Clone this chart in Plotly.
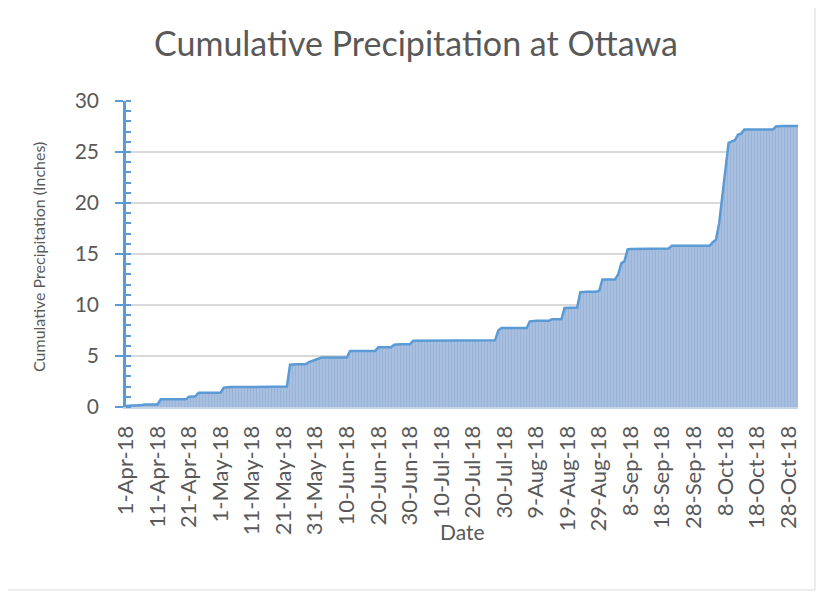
import pandas as pd
import plotly.graph_objects as go

# ---- data (cumulative precipitation, inches), daily from 1-Apr-18 to 31-Oct-18 ----
start_date = "2018-04-01"
end_date = "2018-10-31"

apr = [0.10, 0.15, 0.15, 0.15, 0.15, 0.20, 0.25, 0.25, 0.25, 0.25,
       0.25, 0.75, 0.75, 0.75, 0.75, 0.75, 0.75, 0.75, 0.75, 0.75,
       1.00, 1.00, 1.05, 1.40, 1.40, 1.40, 1.40, 1.40, 1.40, 1.40]
may = [1.40, 1.90, 1.95, 1.95, 1.95, 1.95, 1.95, 1.95, 1.95, 1.95,
       1.95, 1.95, 1.95, 1.95, 1.95, 1.95, 1.95, 1.95, 1.95, 1.95,
       1.95, 2.00, 4.15, 4.20, 4.20, 4.20, 4.20, 4.20, 4.40, 4.50,
       4.60]
jun = [4.70, 4.85, 4.85, 4.85, 4.85, 4.85, 4.85, 4.85, 4.85, 4.85,
       5.50, 5.50, 5.50, 5.50, 5.50, 5.50, 5.50, 5.50, 5.50, 5.85,
       5.85, 5.85, 5.85, 5.85, 6.10, 6.15, 6.15, 6.15, 6.15, 6.15]
jul = [6.50, 6.50, 6.50, 6.50, 6.50, 6.50, 6.50, 6.50, 6.50, 6.50,
       6.50, 6.50, 6.50, 6.50, 6.50, 6.50, 6.50, 6.50, 6.55, 6.55,
       6.55, 6.55, 6.55, 6.55, 6.55, 6.55, 6.55, 7.50, 7.75, 7.75,
       7.75]
aug = [7.75, 7.75, 7.75, 7.75, 7.75, 7.75, 8.40, 8.45, 8.45, 8.45,
       8.45, 8.45, 8.45, 8.60, 8.60, 8.60, 8.60, 9.70, 9.70, 9.70,
       9.70, 9.75, 11.25, 11.30, 11.30, 11.30, 11.30, 11.30, 11.40, 12.50,
       12.50]
sep = [12.50, 12.50, 12.50, 13.00, 14.10, 14.30, 15.45, 15.50, 15.50, 15.50,
       15.50, 15.50, 15.50, 15.50, 15.50, 15.50, 15.50, 15.50, 15.50, 15.55,
       15.80, 15.80, 15.80, 15.80, 15.80, 15.80, 15.80, 15.80, 15.80, 15.80]
oct_ = [15.80, 15.80, 15.80, 16.15, 16.40, 18.00, 20.60, 23.20, 25.90, 26.05,
        26.15, 26.70, 26.80, 27.20, 27.20, 27.20, 27.20, 27.20, 27.20, 27.20,
        27.20, 27.20, 27.20, 27.50, 27.55, 27.55, 27.55, 27.55, 27.55, 27.55,
        27.55]

precip = apr + may + jun + jul + aug + sep + oct_
dates = pd.date_range(start_date, end_date, freq="D")

tick_labels = ["1-Apr-18", "11-Apr-18", "21-Apr-18", "1-May-18", "11-May-18",
               "21-May-18", "31-May-18", "10-Jun-18", "20-Jun-18", "30-Jun-18",
               "10-Jul-18", "20-Jul-18", "30-Jul-18", "9-Aug-18", "19-Aug-18",
               "29-Aug-18", "8-Sep-18", "18-Sep-18", "28-Sep-18", "8-Oct-18",
               "18-Oct-18", "28-Oct-18"]
tick_dates = [pd.to_datetime(t, format="%d-%b-%y") for t in tick_labels]

title_text = "Cumulative Precipitation at Ottawa"
y_title = "Cumulative Precipitation (Inches)"
x_title = "Date"

# ---- layout geometry (page pixels; the page body has an 8px margin) ----
OFF = 8
W, H = 825 - OFF, 601 - OFF
PLOT_L, PLOT_R, PLOT_T, PLOT_B = 126, 798, 101, 407   # page coordinates
L, T = PLOT_L - OFF, PLOT_T - OFF
R, B = W - (PLOT_R - OFF), H - (PLOT_B - OFF)
PW, PH = W - L - R, H - T - B

def px_x(px):  # page px -> paper
    return (px - OFF - L) / PW

def px_y(py):  # page px -> paper
    return (H - B - (py - OFF)) / PH

FONT = "Lato, Carlito, Calibri, sans-serif"
GREY = "#595959"
BLUE = "#5B9BD5"

fig = go.Figure()
fig.add_trace(go.Scatter(
    x=dates, y=precip, mode="lines",
    line=dict(color=BLUE, width=2.5),
    fill="tozeroy",
    fillcolor="#A6BEDF",
    fillpattern=dict(shape="|", bgcolor="#A8BFE0", fgcolor="#8CA8D2",
                     size=3, solidity=0.35),
    hoverinfo="x+y", showlegend=False,
))
# invisible trace on overlay axis to create the crossing major ticks
fig.add_trace(go.Scatter(x=[dates[0]], y=[0], yaxis="y2", mode="markers",
                         marker=dict(opacity=0), showlegend=False,
                         hoverinfo="skip"))

fig.update_layout(
    width=W, height=H,
    margin=dict(l=L, r=R, t=T, b=B, pad=0, autoexpand=False),
    paper_bgcolor="white", plot_bgcolor="white",
    font=dict(family=FONT, color=GREY),
    title=dict(text=title_text, x=(416 - OFF) / W, xref="container",
               xanchor="center",
               y=1 - 36 / H, yref="container", yanchor="middle",
               font=dict(size=34, color=GREY, family=FONT)),
    xaxis=dict(
        type="date", automargin=False,
        range=[dates[0], dates[-1]],
        tickmode="array", tickvals=tick_dates, ticktext=tick_labels,
        tickangle=-90, tickfont=dict(size=22, color=GREY),
        showgrid=False, zeroline=False,
        showline=True, linecolor="#C5D3E6", linewidth=2,
        ticks="", ticklabelstandoff=8,
    ),
    yaxis=dict(
        automargin=False,
        range=[0, 30], dtick=5, tick0=0,
        tickfont=dict(size=21, color=GREY),
        showgrid=True, gridcolor="#D9D9D9", gridwidth=1.5,
        zeroline=False,
        showline=True, linecolor=BLUE, linewidth=2.5,
        ticks="outside", ticklen=8, tickwidth=2, tickcolor=BLUE,
        ticklabelstandoff=12,
        minor=dict(ticks="inside", ticklen=5, tickwidth=2, tickcolor=BLUE,
                   dtick=1, showgrid=False),
    ),
    yaxis2=dict(
        overlaying="y", side="left", range=[0, 30], dtick=5, tick0=0,
        automargin=False,
        showgrid=False, zeroline=False, showline=False,
        showticklabels=False,
        ticks="inside", ticklen=5, tickwidth=2, tickcolor=BLUE,
    ),
    annotations=[
        dict(text=y_title, x=px_x(38), y=px_y(257), xref="paper", yref="paper",
             textangle=-90, showarrow=False, xanchor="center", yanchor="middle",
             font=dict(size=16, color=GREY, family=FONT)),
        dict(text=x_title, x=px_x(462), y=px_y(531), xref="paper", yref="paper",
             showarrow=False, xanchor="center", yanchor="middle",
             font=dict(size=21, color=GREY, family=FONT)),
    ],
    shapes=[
        dict(type="line", xref="paper", yref="paper",
             x0=px_x(815), x1=px_x(815), y0=px_y(OFF), y1=px_y(590),
             line=dict(color="#D9D9D9", width=1)),
        dict(type="line", xref="paper", yref="paper",
             x0=px_x(OFF), x1=px_x(815), y0=px_y(590), y1=px_y(590),
             line=dict(color="#D9D9D9", width=1)),
    ],
)

fig.write_html("out.html")
